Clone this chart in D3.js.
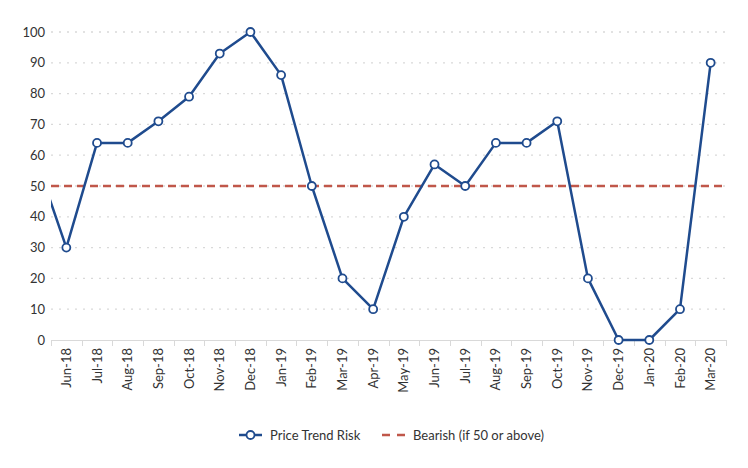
<!DOCTYPE html>
<html><head><meta charset="utf-8">
<script src="https://cdn.jsdelivr.net/npm/d3@7"></script>
<style>body{margin:0;background:#fff}svg{display:block}text{font-family:Lato,"Open Sans",sans-serif;fill:#333}</style>
</head><body><svg id="c" width="748" height="468"></svg>
<script>
const categories = ["Jun-18","Jul-18","Aug-18","Sep-18","Oct-18","Nov-18","Dec-18","Jan-19","Feb-19","Mar-19","Apr-19","May-19","Jun-19","Jul-19","Aug-19","Sep-19","Oct-19","Nov-19","Dec-19","Jan-20","Feb-20","Mar-20"];
const riskValues = [30,64,64,71,79,93,100,86,50,20,10,40,57,50,64,64,71,20,0,0,10,90];
const priorValue = 59; // May-18, off-chart at left
const bearishLevel = 50;
const yTicks = [0,10,20,30,40,50,60,70,80,90,100];

const svg = d3.select("#c");
const L = 51, R = 726, T = 32, B = 340;
const x = d3.scaleBand().domain(categories).range([L, R]);
const y = d3.scaleLinear().domain([0,100]).range([B, T]);
const cx = d => x(d) + x.bandwidth()/2;

// grid
svg.append("g").selectAll("line").data(yTicks.filter(t=>t>0)).join("line")
  .attr("x1", L).attr("x2", R).attr("y1", d=>y(d)).attr("y2", d=>y(d))
  .attr("stroke","#d9d9d9").attr("stroke-width",1.3).attr("stroke-dasharray","2,6");

// y labels
svg.append("g").selectAll("text").data(yTicks).join("text")
  .attr("x", L-6).attr("y", d=>y(d)).attr("dy","0.35em").attr("text-anchor","end")
  .attr("font-size",13).text(d=>d);

// x axis
const xa = svg.append("g").attr("transform",`translate(0,${B})`)
  .call(d3.axisBottom(x).tickSize(0).tickPadding(0));
xa.select(".domain").remove();
svg.append("line").attr("x1",L).attr("x2",R).attr("y1",B+0.5).attr("y2",B+0.5).attr("stroke","#d9d9d9");
const bounds = categories.map(c=>x(c)).concat([R]);
svg.append("g").selectAll("line").data(bounds).join("line")
  .attr("x1",d=>Math.round(d)+0.5).attr("x2",d=>Math.round(d)+0.5).attr("y1",B).attr("y2",B+6).attr("stroke","#d9d9d9");
xa.selectAll(".tick text").attr("font-size",13).attr("fill","#333")
  .attr("transform","rotate(-90)").attr("text-anchor","end").attr("x",-8).attr("y",0).attr("dy","0.35em");

// bearish line
svg.append("line").attr("x1",L).attr("x2",R).attr("y1",y(bearishLevel)).attr("y2",y(bearishLevel))
  .attr("stroke","#c0574a").attr("stroke-width",2.5).attr("stroke-dasharray","8,5");

// clip
svg.append("clipPath").attr("id","clip").append("rect").attr("x",L).attr("y",0).attr("width",R-L+10).attr("height",B+10);

const pts = [[x(categories[0]) - x.bandwidth()/2, y(priorValue)]].concat(categories.map((c,i)=>[cx(c), y(riskValues[i])]));
svg.append("path").attr("clip-path","url(#clip)").attr("d", d3.line()(pts))
  .attr("fill","none").attr("stroke","#1f4b8e").attr("stroke-width",2.5).attr("stroke-linejoin","round");
svg.append("g").selectAll("circle").data(riskValues).join("circle")
  .attr("cx",(d,i)=>cx(categories[i])).attr("cy",d=>y(d)).attr("r",4)
  .attr("fill","#fff").attr("stroke","#1f4b8e").attr("stroke-width",1.8);

// legend
const ly = 435;
svg.append("line").attr("x1",239).attr("x2",262).attr("y1",ly).attr("y2",ly).attr("stroke","#1f4b8e").attr("stroke-width",2.5);
svg.append("circle").attr("cx",250.5).attr("cy",ly).attr("r",4).attr("fill","#fff").attr("stroke","#1f4b8e").attr("stroke-width",1.8);
svg.append("text").attr("x",270).attr("y",ly).attr("dy","0.35em").attr("font-size",13).text("Price Trend Risk");
svg.append("line").attr("x1",382).attr("x2",406).attr("y1",ly).attr("y2",ly).attr("stroke","#c0574a").attr("stroke-width",2.5).attr("stroke-dasharray","8,7");
svg.append("text").attr("x",413).attr("y",ly).attr("dy","0.35em").attr("font-size",13).text("Bearish (if 50 or above)");
</script></body></html>
